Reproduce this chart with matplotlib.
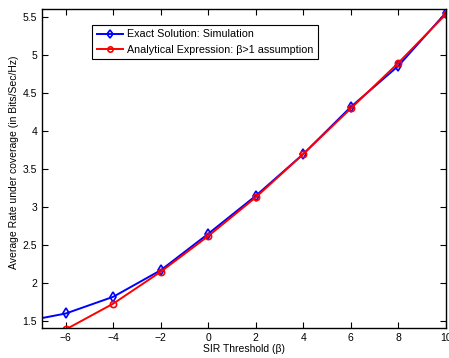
import matplotlib
matplotlib.use("Agg")
import matplotlib.pyplot as plt

plt.rcParams['font.family'] = ['Liberation Sans', 'DejaVu Sans']

x_vals = [-8, -6, -4, -2, 0, 2, 4, 6, 8, 10]
exact_sim = [1.48, 1.60, 1.82, 2.17, 2.65, 3.15, 3.70, 4.32, 4.86, 5.56]
analytical = [1.05, 1.39, 1.73, 2.15, 2.62, 3.13, 3.70, 4.30, 4.90, 5.54]
x_ticks = [-6, -4, -2, 0, 2, 4, 6, 8, 10]
y_ticks = [1.5, 2, 2.5, 3, 3.5, 4, 4.5, 5, 5.5]

fig = plt.figure(figsize=(4.49, 3.58), dpi=100)
ax = fig.add_axes([0.0935, 0.084, 0.8995, 0.891])

ax.plot(x_vals, exact_sim, color='#0000ff', lw=1.4, marker='d', ms=5,
        mfc='none', mew=1.2, label='Exact Solution: Simulation')
ax.plot(x_vals, analytical, color='#ff0000', lw=1.4, marker='o', ms=4.5,
        mfc='none', mew=1.2, label='Analytical Expression: \u03b2>1 assumption')

ax.set_xlim(-7, 10)
ax.set_ylim(1.41, 5.61)
ax.set_xticks(x_ticks)
ax.set_xticklabels(['\u22126', '\u22124', '\u22122', '0', '2', '4', '6', '8', '10'])
ax.set_yticks(y_ticks)
ax.set_yticklabels(['1.5', '2', '2.5', '3', '3.5', '4', '4.5', '5', '5.5'])
ax.tick_params(direction='in', top=True, right=True, labelsize=7.5, length=4, width=0.8)
for s in ax.spines.values():
    s.set_linewidth(1.0)

ax.set_xlabel('SIR Threshold (\u03b2)', fontsize=7.5, labelpad=1)
ax.set_ylabel('Average Rate under coverage (in Bits/Sec/Hz)', fontsize=7.5, labelpad=2)
ax.yaxis.set_label_coords(-0.057, 0.52)

leg = ax.legend(loc='upper left', bbox_to_anchor=(0.124, 0.95), fontsize=7.75,
                frameon=True, fancybox=False, edgecolor='black', framealpha=1,
                borderpad=0.42, labelspacing=0.5, handlelength=2.5, handletextpad=0.3,
                borderaxespad=0, markerscale=0.85)
leg.get_frame().set_linewidth(0.8)

fig.savefig('out.png', dpi=100)
